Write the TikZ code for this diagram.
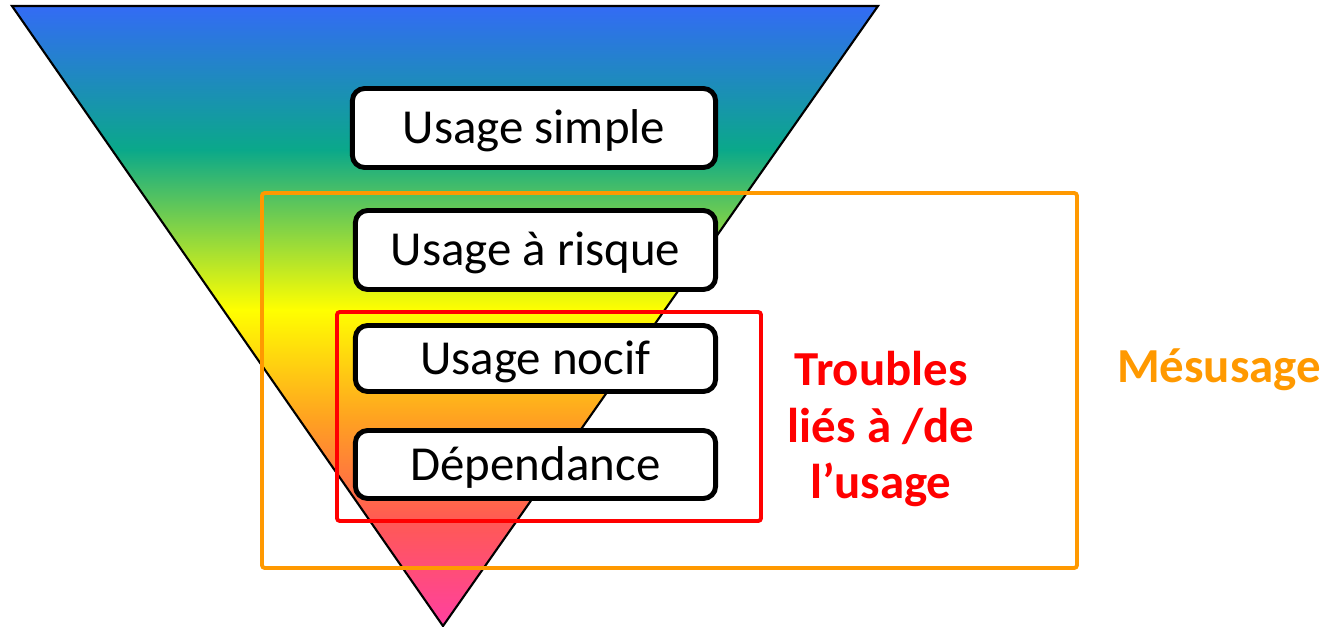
\documentclass[tikz,border=0pt]{standalone}
\usepackage{fontspec}
\setmainfont{Carlito}
\pgfdeclareverticalshading{pyr}{100bp}{%
  rgb(0bp)=(1,0.25,0.63);
  rgb(25bp)=(1,0.25,0.63);
  rgb(33.5bp)=(1,0.35,0.33);
  rgb(41.6bp)=(1,0.63,0.13);
  rgb(50.5bp)=(1,1,0);
  rgb(63.4bp)=(0.04,0.66,0.54);
  rgb(75bp)=(0.20,0.42,0.96);
  rgb(100bp)=(0.20,0.42,0.96)}
\definecolor{mesorange}{RGB}{255,153,0}
\definecolor{troured}{RGB}{255,0,0}
\tikzset{
  stage/.style={draw=black, line width=1.4pt, fill=white, rounded corners=3.5pt,
    inner sep=0pt, text height=9pt, text depth=0pt,
    font=\fontsize{13.9}{17}\selectfont},
  frame/.style={line width=1.1pt, rounded corners=0.8pt},
  biglabel/.style={font=\bfseries\fontsize{13.9}{16.2}\selectfont, align=center}
}
\begin{document}
\begin{tikzpicture}[x=0.01cm,y=-0.01cm]
\useasboundingbox (0,0) rectangle (1335,627);
% inverted triangle
\shade[shading=pyr] (12,6) -- (878,6) -- (443,626) -- cycle;
\draw[line width=0.6pt, line join=miter] (12,6) -- (878,6) -- (443,626) -- cycle;
% frames
\draw[frame, draw=mesorange] (262,193) rectangle (1077,568);
\draw[frame, draw=troured] (337,312) rectangle (761,521);
% stages
\node[stage, minimum width=3.63cm, minimum height=0.79cm] (simple) at (534,128) {Usage simple};
\node[stage, minimum width=3.60cm, minimum height=0.79cm] (risque) at (535.5,250) {Usage à risque};
\node[stage, minimum width=3.60cm, minimum height=0.66cm] (nocif) at (535.5,358.5) {Usage nocif};
\node[stage, minimum width=3.60cm, minimum height=0.68cm] (dep) at (535.5,464.5) {Dépendance};
% labels
\node[biglabel, text=troured] (troubles) at (881,429) {Troubles\\liés à /de\\l’usage};
\node[biglabel, text=mesorange] (mesusage) at (1219,370) {Mésusage};
\end{tikzpicture}
\end{document}
